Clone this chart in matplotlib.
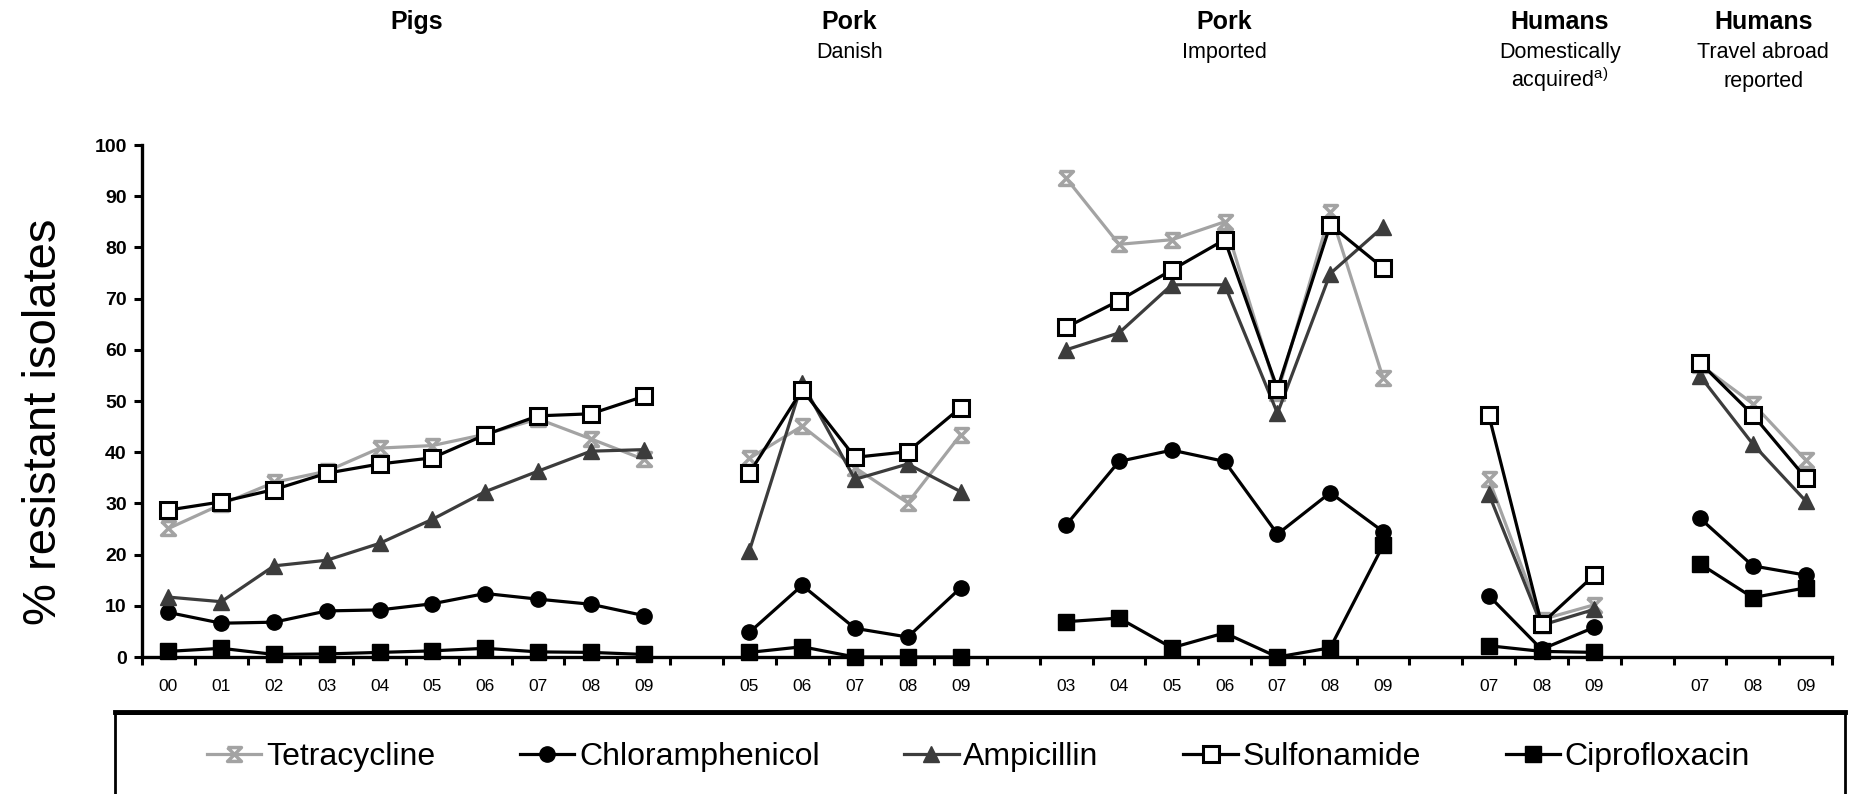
import numpy as np
import matplotlib
matplotlib.use("Agg")
import matplotlib.pyplot as plt
from matplotlib.path import Path
from matplotlib.patches import Rectangle
from matplotlib.lines import Line2D

plt.rcParams['font.family'] = ['Liberation Sans', 'DejaVu Sans']
plt.rcParams['mathtext.fontset'] = 'custom'
plt.rcParams['mathtext.rm'] = 'Liberation Sans'

# panel headings
groups = ["Pigs", "Pork", "Pork", "Humans", "Humans"]
subtitles = [[], ["Danish"], ["Imported"],
             ["Domestically", "acquired$^{\\mathrm{a)}}$"],
             ["Travel abroad", "reported"]]
years = [
    ["00", "01", "02", "03", "04", "05", "06", "07", "08", "09"],
    ["05", "06", "07", "08", "09"],
    ["03", "04", "05", "06", "07", "08", "09"],
    ["07", "08", "09"],
    ["07", "08", "09"],
]

# % resistant isolates, one list per panel
tetracycline = [
    [25.1, 29.8, 34.1, 36.3, 40.8, 41.3, 43.5, 46.5, 42.6, 38.6],
    [38.8, 45.1, 37.0, 30.1, 43.4],
    [93.5, 80.6, 81.5, 85.0, 51.5, 86.9, 54.5],
    [34.8, 7.3, 10.2],
    [57.1, 49.5, 38.5],
]
chloramphenicol = [
    [8.7, 6.6, 6.8, 9.0, 9.2, 10.4, 12.4, 11.3, 10.3, 8.1],
    [4.8, 14.0, 5.6, 3.9, 13.5],
    [25.8, 38.2, 40.4, 38.2, 24.0, 32.1, 24.5],
    [12.0, 1.5, 5.8],
    [27.1, 17.8, 16.0],
]
ampicillin = [
    [11.7, 10.8, 17.8, 18.9, 22.2, 26.9, 32.3, 36.3, 40.2, 40.5],
    [20.7, 53.5, 34.7, 37.7, 32.3],
    [60.0, 63.3, 72.7, 72.7, 47.6, 74.9, 84.0],
    [31.9, 6.2, 9.3],
    [54.9, 41.6, 30.5],
]
sulfonamide = [
    [28.7, 30.3, 32.7, 35.9, 37.7, 38.9, 43.4, 47.1, 47.5, 50.9],
    [35.9, 52.2, 39.0, 40.1, 48.7],
    [64.4, 69.6, 75.6, 81.5, 52.4, 84.4, 76.0],
    [47.3, 6.5, 16.0],
    [57.5, 47.3, 35.0],
]
ciprofloxacin = [
    [1.1, 1.7, 0.5, 0.6, 0.9, 1.2, 1.7, 1.0, 0.9, 0.5],
    [0.9, 2.0, 0.0, 0.0, 0.0],
    [6.9, 7.6, 1.8, 4.7, 0.0, 1.8, 21.8],
    [2.2, 1.1, 0.9],
    [18.2, 11.6, 13.5],
]

# heading positions in category slots
title_x = [5.2, 13.4, 20.5, 26.85, 30.7]

# hourglass-style cross used for tetracycline
hourglass = Path([(-1, 1), (1, 1), (-1, -1), (1, -1), (-1, 1)],
                 [Path.MOVETO, Path.LINETO, Path.LINETO, Path.LINETO, Path.LINETO])

series = [
    ("Tetracycline", tetracycline, dict(color="#a3a3a3", marker=hourglass, ms=10,
                                        mfc="none", mew=2.5, zorder=3)),
    ("Chloramphenicol", chloramphenicol, dict(color="black", marker="o", ms=11, zorder=4)),
    ("Ampicillin", ampicillin, dict(color="#3c3c3c", marker="^", ms=11, zorder=4)),
    ("Sulfonamide", sulfonamide, dict(color="black", marker="s", ms=11, mfc="white",
                                      mew=2.2, zorder=6)),
    ("Ciprofloxacin", ciprofloxacin, dict(color="black", marker="s", ms=11, zorder=5)),
]

# category slots, one empty slot between panels
x_groups = []
start = 0
for yrs in years:
    x_groups.append(np.arange(len(yrs)) + start + 0.5)
    start += len(yrs) + 1
n_slots = start - 1

W, H = 1856, 794
fig = plt.figure(figsize=(W / 100, H / 100), dpi=100)
ax = fig.add_axes([142 / W, 1 - 657 / H, 1690 / W, 512 / H])

for name, data, style in series:
    for xs, vals in zip(x_groups, data):
        ax.plot(xs, vals, lw=2.3, clip_on=False, **style)

ax.set_xlim(0, n_slots)
ax.set_ylim(0, 100)
for side in ["top", "right"]:
    ax.spines[side].set_visible(False)
for side in ["left", "bottom"]:
    ax.spines[side].set_linewidth(2.4)

ax.set_xticks(np.arange(0, n_slots + 1))
ax.set_xticklabels([])
ax.tick_params(axis="x", which="major", length=6, width=2.2, direction="out")
centers = np.concatenate(x_groups)
ax.set_xticks(centers, minor=True)
ax.set_xticklabels([y for yrs in years for y in yrs], minor=True, fontsize=12.5)
ax.tick_params(axis="x", which="minor", length=0, pad=16)

ax.set_yticks(np.arange(0, 101, 10))
ax.tick_params(axis="y", length=6, width=2.2, direction="out", pad=5, labelsize=14)
for lab in ax.get_yticklabels():
    lab.set_fontweight("bold")

ax.set_ylabel("% resistant isolates", fontsize=34)
ax.yaxis.set_label_coords(-0.045, 0.46)

# panel headings above the plot
for tx, head, sub in zip(title_x, groups, subtitles):
    xf = (142 + tx / n_slots * 1690) / W
    fig.text(xf, 1 - 29 / H, head, ha="center", va="baseline",
             fontsize=18, fontweight="bold")
    for k, line in enumerate(sub):
        fig.text(xf, 1 - (58 + 29 * k) / H, line, ha="center", va="baseline",
                 fontsize=15.5)

# legend with its box running off the right edge
handles = [Line2D([], [], lw=2.3, **{k: v for k, v in s.items() if k != "zorder"})
           for _, _, s in series]
fig.legend(handles, [n for n, _, _ in series], loc="center left",
           bbox_to_anchor=(207 / W, 1 - 757 / H), ncol=5, frameon=False,
           fontsize=23, handlelength=1.7, handletextpad=0.15,
           columnspacing=2.65, borderpad=0, borderaxespad=0)
fig.patches.append(Rectangle((115 / W, -0.05), (1845 - 115) / W, 0.05 + (794 - 713) / H,
                             transform=fig.transFigure, fill=False, lw=2, ec="black"))
fig.lines.append(Line2D([115 / W, 1845 / W], [1 - 712 / H] * 2,
                        transform=fig.transFigure, lw=3.5, color="black"))

fig.savefig("out.png", dpi=100)
